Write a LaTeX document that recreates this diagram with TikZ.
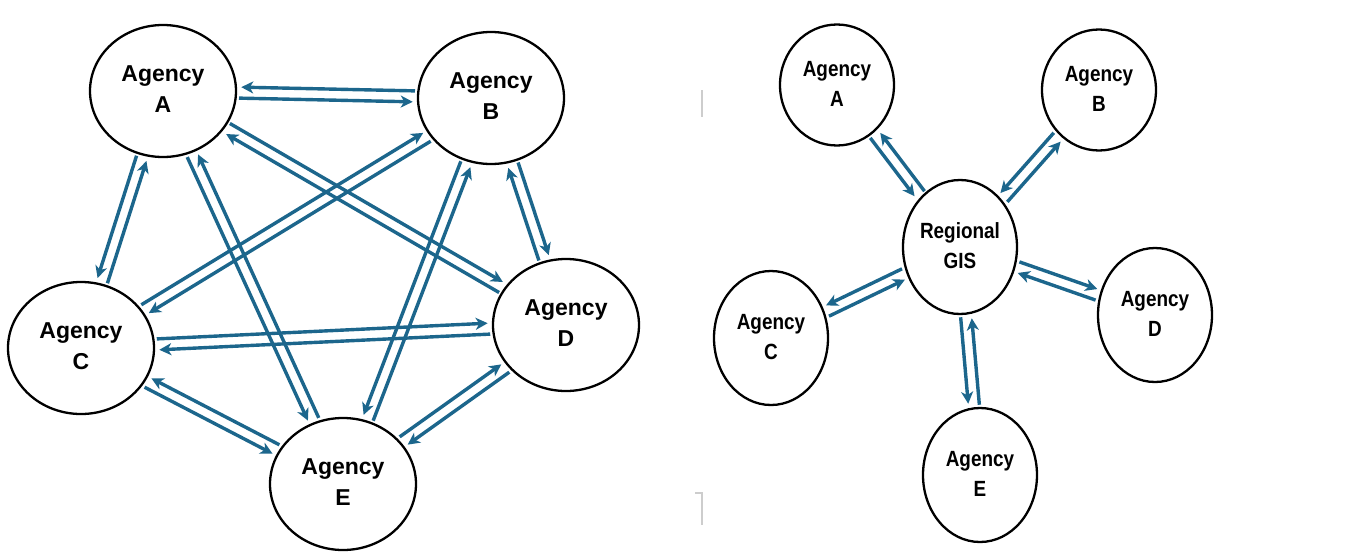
\documentclass[tikz,border=0pt]{standalone}
\usepackage{fontspec}
\usepackage{graphicx}
\setmainfont{Liberation Sans}
\usetikzlibrary{shapes.geometric,arrows.meta,calc}
\definecolor{flowblue}{RGB}{28,102,140}
\definecolor{faintgray}{RGB}{205,205,205}
\newcommand\twoff{5.5pt}
% #1,#2 nodes; #3 side angle for #1->#2 ; #4 = -#3
\newcommand\twoway[4]{%
  \path (#1) -- (#2) coordinate[pos=0] (tw1) coordinate[pos=1] (tw2);
  \draw[flow] ($(tw1)!\twoff!#3:(tw2)$) -- ($(tw2)!\twoff!#4:(tw1)$);
  \draw[flow] ($(tw2)!\twoff!#3:(tw1)$) -- ($(tw1)!\twoff!#4:(tw2)$);
}
\newcommand\rtext[1]{\scalebox{0.86}[1]{\begin{tabular}{@{}c@{}}#1\end{tabular}}}
\newcommand\ltext[1]{\begin{tabular}{@{}c@{}}#1\end{tabular}}
\tikzset{
  lnode/.style={ellipse, draw=black, line width=2.3pt, minimum width=146pt,
    minimum height=132pt, inner sep=0pt,
    font=\bfseries\fontsize{23}{31}\selectfont},
  rnode/.style={ellipse, draw=black, line width=2.3pt, minimum width=114pt,
    minimum height=134pt, inner sep=0pt,
    font=\bfseries\fontsize{22}{30}\selectfont},
  flow/.style={draw=flowblue, line width=3.4pt,
    -{Stealth[length=12pt,width=12pt,inset=3.5pt]},
    shorten >=4pt, shorten <=2pt},
  artifact/.style={draw=faintgray, line width=1.2pt}
}
\begin{document}
\begin{tikzpicture}[x=1pt,y=-1pt]
\useasboundingbox (0,0) rectangle (1358,552);
% left: fully connected
\node[lnode] (LA) at (163,91)  {\ltext{Agency\\A}};
\node[lnode] (LB) at (491,98)  {\ltext{Agency\\B}};
\node[lnode] (LC) at (81,348)  {\ltext{Agency\\C}};
\node[lnode] (LD) at (566,325) {\ltext{Agency\\D}};
\node[lnode] (LE) at (343,484) {\ltext{Agency\\E}};
\twoway{LA}{LB}{-90}{90}
\twoway{LA}{LC}{-90}{90}
\twoway{LA}{LE}{-90}{90}
\twoway{LB}{LE}{-90}{90}
\twoway{LC}{LE}{-90}{90}
\twoway{LA}{LD}{90}{-90}
\twoway{LB}{LC}{90}{-90}
\twoway{LB}{LD}{90}{-90}
\twoway{LC}{LD}{90}{-90}
\twoway{LD}{LE}{90}{-90}
% right: hub and spoke
\node[rnode] (G)  at (960,247)  {\rtext{Regional\\GIS}};
\node[rnode, minimum height=121pt] (RA) at (837,85) {\rtext{Agency\\A}};
\node[rnode, minimum height=121pt] (RB) at (1099,90) {\rtext{Agency\\B}};
\node[rnode] (RC) at (771,338)  {\rtext{Agency\\C}};
\node[rnode] (RD) at (1155,315) {\rtext{Agency\\D}};
\node[rnode] (RE) at (980,475)  {\rtext{Agency\\E}};
\twoway{G}{RA}{-90}{90}
\twoway{G}{RB}{-90}{90}
\twoway{G}{RC}{-90}{90}
\twoway{G}{RE}{-90}{90}
\twoway{G}{RD}{90}{-90}
% faint marks
\draw[artifact] (702,90) -- (702,117);
\draw[artifact] (695,493) -- (702,493) -- (702,525);
\end{tikzpicture}
\end{document}
